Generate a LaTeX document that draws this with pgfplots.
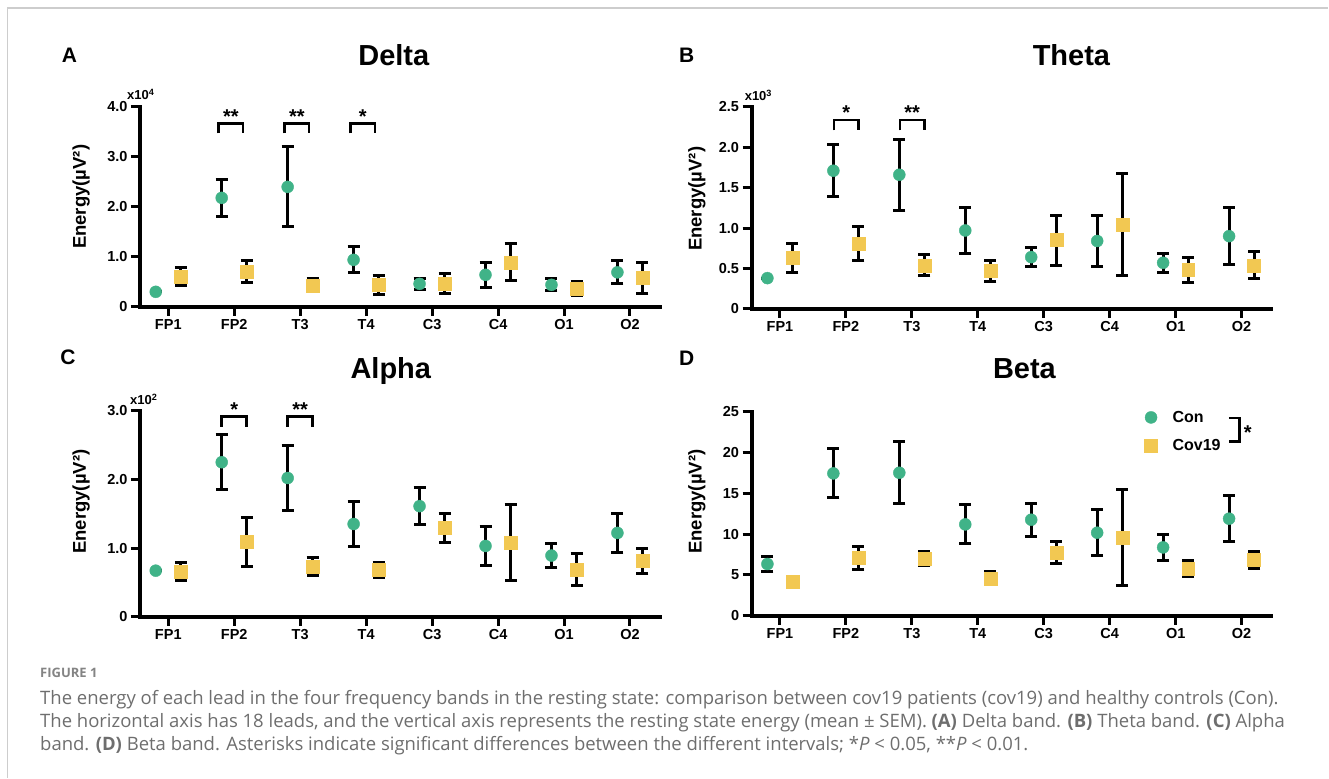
\documentclass[border=0pt]{standalone}
\usepackage{fontspec}
\setmainfont{Liberation Sans}
\newfontfamily\capfont{Open Sans}
\usepackage{pgfplots}
\usepackage{pgfplotstable}
\pgfplotsset{compat=1.18}

\definecolor{cCon}{RGB}{64,179,136}
\definecolor{cCov}{RGB}{242,200,82}
\definecolor{capgray}{RGB}{110,110,110}
\definecolor{bordergray}{RGB}{205,205,205}
\newcommand{\fs}[1]{\fontsize{#1}{#1}\selectfont}

% x positions: Con at lead-0.19, Cov19 at lead+0.19
\pgfplotstableread{
x y e
0.81 0.30 0
1.81 2.18 0.37
2.81 2.40 0.80
3.81 0.94 0.26
4.81 0.46 0.11
5.81 0.64 0.25
6.81 0.44 0.12
7.81 0.69 0.23
}\deltacon
\pgfplotstableread{
x y e
1.19 0.61 0.18
2.19 0.70 0.22
3.19 0.43 0.13
4.19 0.44 0.19
5.19 0.46 0.20
6.19 0.89 0.37
7.19 0.37 0.14
8.19 0.58 0.31
}\deltacov
\pgfplotstableread{
x y e
0.81 0.38 0
1.81 1.71 0.32
2.81 1.66 0.44
3.81 0.97 0.28
4.81 0.64 0.12
5.81 0.84 0.31
6.81 0.57 0.12
7.81 0.90 0.35
}\thetacon
\pgfplotstableread{
x y e
1.19 0.63 0.18
2.19 0.81 0.21
3.19 0.54 0.13
4.19 0.47 0.13
5.19 0.85 0.31
6.19 1.04 0.63
7.19 0.48 0.16
8.19 0.54 0.17
}\thetacov
\pgfplotstableread{
x y e
0.81 0.67 0
1.81 2.25 0.40
2.81 2.02 0.47
3.81 1.35 0.33
4.81 1.61 0.27
5.81 1.03 0.29
6.81 0.89 0.17
7.81 1.22 0.29
}\alphacon
\pgfplotstableread{
x y e
1.19 0.66 0.13
2.19 1.09 0.36
3.19 0.73 0.13
4.19 0.68 0.11
5.19 1.29 0.21
6.19 1.08 0.56
7.19 0.69 0.23
8.19 0.81 0.18
}\alphacov
\pgfplotstableread{
x y e
0.81 6.33 0.92
1.81 17.44 3.0
2.81 17.52 3.8
3.81 11.19 2.4
4.81 11.76 2.0
5.81 10.17 2.84
6.81 8.37 1.6
7.81 11.89 2.8
}\betacon
\pgfplotstableread{
x y e
1.19 4.17 0
2.19 7.11 1.4
3.19 6.99 0.83
4.19 4.58 0.8
5.19 7.76 1.35
6.19 9.60 5.86
7.19 5.76 0.98
8.19 6.82 1.06
}\betacov

\tikzset{brk/.style={line width=2.6pt, black}}
\pgfplotsset{
  eeg/.style={
    scale only axis, width=520pt, anchor=south west,
    axis lines*=left,
    axis line style={line width=4pt, line cap=rect},
    xmin=0.57, xmax=8.45, ymin=0,
    xtick={1,...,8},
    xticklabels={FP1,FP2,T3,T4,C3,C4,O1,O2},
    tick align=outside, major tick length=9pt,
    tick style={black, line width=3pt},
    tick label style={font=\fs{14.5}\bfseries},
    /pgf/number format/assume math mode=true,
    clip=false,
  },
  errs/.style={error bars/.cd, y dir=both, y explicit,
    error bar style={line width=3pt, black},
    error mark options={rotate=90, mark size=6pt, line width=3pt, black}},
  sCon/.style={only marks, mark=*, mark size=6pt, color=cCon,
    mark options={fill=cCon, draw=none}, errs},
  sCov/.style={only marks, mark=square*, mark size=6.5pt, color=cCov,
    mark options={fill=cCov, draw=none}, errs},
}
\newcommand{\sig}[5]{% left, right, legs, top, stars
  \draw[brk] (axis cs:#1,#3) -- (axis cs:#1,#4) -- (axis cs:#2,#4) -- (axis cs:#2,#3);
  \node[anchor=base, font=\fs{20}\bfseries, inner sep=0pt] at (axis cs:{(#1+#2)/2},#4) {#5};
}

\begin{document}
\begin{tikzpicture}
\fill[white] (0,0) rectangle (1329pt,778pt);

% A: Delta
\begin{axis}[eeg, at={(140pt,471pt)}, height=200pt, ymax=4,
  ytick={0,1,2,3,4}, yticklabels={0,1.0,2.0,3.0,4.0}]
\addplot[sCon] table[x=x, y=y, y error=e] {\deltacon};
\addplot[sCov] table[x=x, y=y, y error=e] {\deltacov};
\sig{1.765}{2.135}{3.47}{3.67}{**}
\sig{2.765}{3.135}{3.47}{3.67}{**}
\sig{3.765}{4.135}{3.47}{3.67}{*}
\end{axis}

% B: Theta
\begin{axis}[eeg, at={(752pt,469pt)}, height=202pt, ymax=2.5,
  ytick={0,0.5,1,1.5,2,2.5}, yticklabels={0,0.5,1.0,1.5,2.0,2.5}]
\addplot[sCon] table[x=x, y=y, y error=e] {\thetacon};
\addplot[sCov] table[x=x, y=y, y error=e] {\thetacov};
\sig{1.82}{2.19}{2.21}{2.34}{*}
\sig{2.82}{3.19}{2.21}{2.34}{**}
\end{axis}

% C: Alpha
\begin{axis}[eeg, at={(140pt,161pt)}, height=206pt, ymax=3,
  ytick={0,1,2,3}, yticklabels={0,1.0,2.0,3.0}]
\addplot[sCon] table[x=x, y=y, y error=e] {\alphacon};
\addplot[sCov] table[x=x, y=y, y error=e] {\alphacov};
\sig{1.81}{2.19}{2.77}{2.92}{*}
\sig{2.81}{3.19}{2.77}{2.92}{**}
\end{axis}

% D: Beta
\begin{axis}[eeg, at={(752pt,162pt)}, height=204pt, ymax=25,
  ytick={0,5,10,15,20,25},
  legend style={draw=none, fill=none, font=\fs{16}\bfseries,
    at={(axis cs:6.48,22.55)}, anchor=west, row sep=12pt,
    /tikz/every odd column/.append style={column sep=13pt}},
  legend cell align=left]
\addplot[sCon] table[x=x, y=y, y error=e] {\betacon};
\addlegendentry{Con}
\addplot[sCov] table[x=x, y=y, y error=e] {\betacov};
\addlegendentry{Cov19}
\draw[brk] (axis cs:7.805,24.26) -- (axis cs:7.967,24.26) -- (axis cs:7.967,21.36) -- (axis cs:7.805,21.36);
\node[anchor=center, font=\fs{20}\bfseries, inner sep=0pt] at (axis cs:8.094,22.4) {*};
\end{axis}

\begin{scope}[x=1pt, y=-1pt, shift={(0pt,778pt)}]
\draw[bordergray, line width=1.5pt] (7.5,778) -- (7.5,8) -- (1329,8);
% panel letters
\node[anchor=base, font=\fs{21}\bfseries, inner sep=0pt] at (69.5,63) {A};
\node[anchor=base, font=\fs{21}\bfseries, inner sep=0pt] at (687,63) {B};
\node[anchor=base, font=\fs{21}\bfseries, inner sep=0pt] at (68,365) {C};
\node[anchor=base, font=\fs{21}\bfseries, inner sep=0pt] at (687,366) {D};
% titles
\node[anchor=base, font=\fs{29}\bfseries, inner sep=0pt] at (394,66) {Delta};
\node[anchor=base, font=\fs{29}\bfseries, inner sep=0pt] at (1072,66) {Theta};
\node[anchor=base, font=\fs{29}\bfseries, inner sep=0pt] at (391,379) {Alpha};
\node[anchor=base, font=\fs{29}\bfseries, inner sep=0pt] at (1025,379) {Beta};
% exponents
\node[anchor=base west, font=\fs{13}\bfseries, inner sep=0pt] at (127,100) {x10\textsuperscript{4}};
\node[anchor=base west, font=\fs{13}\bfseries, inner sep=0pt] at (745,101) {x10\textsuperscript{3}};
\node[anchor=base west, font=\fs{13}\bfseries, inner sep=0pt] at (130,405) {x10\textsuperscript{2}};
% y labels
\node[rotate=90, anchor=base, font=\fs{18.5}\bfseries, inner sep=0pt] at (86,197) {Energy(µV²)};
\node[rotate=90, anchor=base, font=\fs{18.5}\bfseries, inner sep=0pt] at (702,199) {Energy(µV²)};
\node[rotate=90, anchor=base, font=\fs{18.5}\bfseries, inner sep=0pt] at (86,502) {Energy(µV²)};
\node[rotate=90, anchor=base, font=\fs{18.5}\bfseries, inner sep=0pt] at (702,502) {Energy(µV²)};
% caption
\node[anchor=base west, font=\capfont\fs{13}\bfseries, text=capgray!85, inner sep=0pt] at (40,678) {FIGURE 1};
\begin{scope}[every node/.style={anchor=base west, font=\capfont\fs{18.5}, text=capgray, inner sep=0pt}]
\node at (40,705) {The energy of each lead in the four frequency bands in the resting state: comparison between cov19 patients (cov19) and healthy controls (Con).};
\node at (40,728) {The horizontal axis has 18 leads, and the vertical axis represents the resting state energy (mean ± SEM). \textbf{(A)} Delta band. \textbf{(B)} Theta band. \textbf{(C)} Alpha};
\node at (40,751) {band. \textbf{(D)} Beta band. Asterisks indicate significant differences between the different intervals; *\textit{P} < 0.05, **\textit{P} < 0.01.};
\end{scope}
\end{scope}
\end{tikzpicture}
\end{document}
